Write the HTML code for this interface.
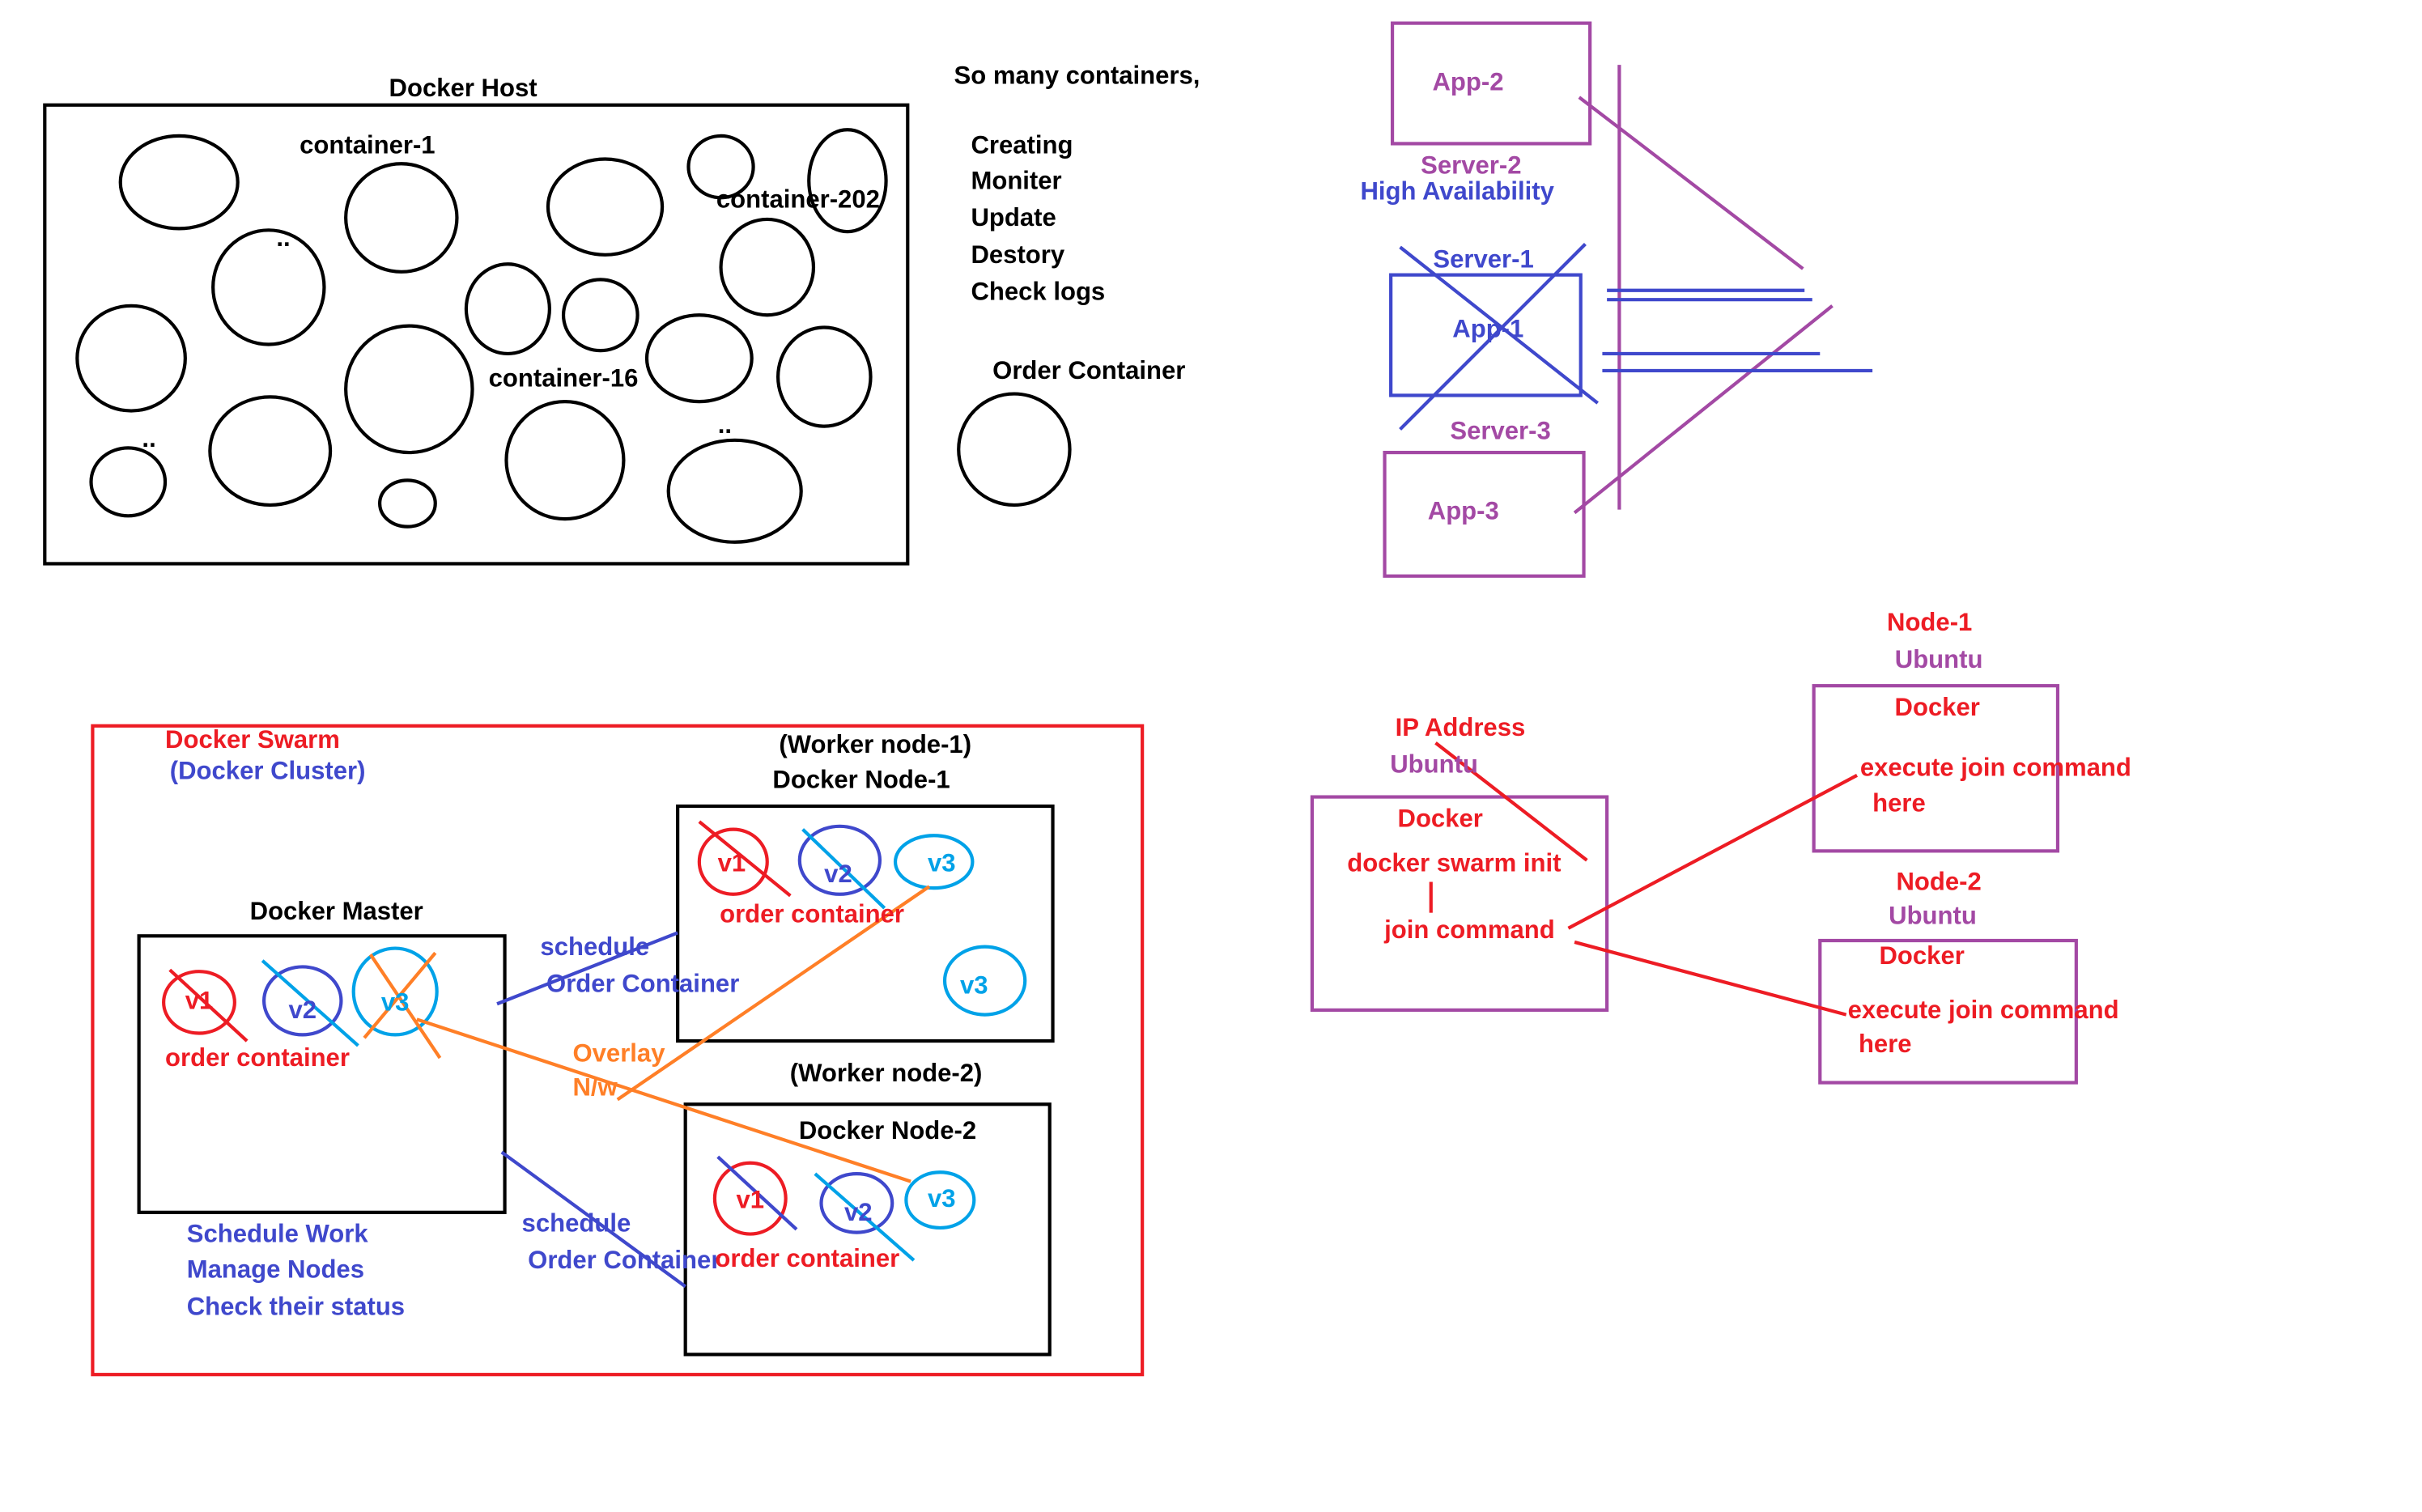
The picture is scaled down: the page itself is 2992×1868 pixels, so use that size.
<!DOCTYPE html>
<html><head><meta charset="utf-8"><style>
html,body{margin:0;padding:0;background:#fff;width:2992px;height:1868px;overflow:hidden}
svg{display:block}
text{font-family:"Liberation Sans",sans-serif;font-weight:bold;font-size:16.3px;dominant-baseline:middle}
</style></head><body>
<svg width="2992" height="1868" viewBox="0 0 1569 979" preserveAspectRatio="none" xmlns="http://www.w3.org/2000/svg">
<g fill="none" stroke-width="2.2">
<g stroke="#000">
<rect x="29" y="68" width="559" height="297"/>
<ellipse cx="116" cy="118" rx="38" ry="30"/><ellipse cx="260" cy="141" rx="36" ry="35"/>
<ellipse cx="174" cy="186" rx="36" ry="37"/><ellipse cx="85" cy="232" rx="35" ry="34"/>
<ellipse cx="83" cy="312" rx="24" ry="22"/><ellipse cx="175" cy="292" rx="39" ry="35"/>
<ellipse cx="265" cy="252" rx="41" ry="41"/><ellipse cx="264" cy="326" rx="18" ry="15"/>
<ellipse cx="329" cy="200" rx="27" ry="29"/><ellipse cx="389" cy="204" rx="24" ry="23"/>
<ellipse cx="392" cy="134" rx="37" ry="31"/><ellipse cx="467" cy="108" rx="21" ry="20"/>
<ellipse cx="549" cy="117" rx="25" ry="33"/><ellipse cx="497" cy="173" rx="30" ry="31"/>
<ellipse cx="453" cy="232" rx="34" ry="28"/><ellipse cx="534" cy="244" rx="30" ry="32"/>
<ellipse cx="366" cy="298" rx="38" ry="38"/><ellipse cx="476" cy="318" rx="43" ry="33"/>
<circle cx="657" cy="291" r="36"/>
</g>
<g stroke="#a349a4">
<rect x="902" y="15" width="128" height="78"/>
<rect x="897" y="293" width="129" height="80"/>
<line x1="1049" y1="42" x2="1049" y2="330"/>
<line x1="1023" y1="63" x2="1168" y2="174"/>
<line x1="1020" y1="332" x2="1187" y2="198"/>
</g>
<g stroke="#3f48cc">
<rect x="901" y="178" width="123" height="78"/>
<line x1="907" y1="160" x2="1035" y2="261"/><line x1="1027" y1="158" x2="907" y2="278"/>
<line x1="1041" y1="188" x2="1169" y2="188"/><line x1="1041" y1="194" x2="1174" y2="194"/>
<line x1="1038" y1="229" x2="1179" y2="229"/><line x1="1038" y1="240" x2="1213" y2="240"/>
</g>
<rect x="60" y="470" width="680" height="420" stroke="#ed1c24"/>
<g stroke="#000">
<rect x="90" y="606" width="237" height="179"/>
<rect x="439" y="522" width="243" height="152"/>
<rect x="444" y="715" width="236" height="162"/>
</g>
<g stroke="#ed1c24">
<ellipse cx="129" cy="649" rx="23" ry="20"/><line x1="110" y1="628" x2="160" y2="674"/>
<ellipse cx="475" cy="558" rx="22" ry="21"/><line x1="453" y1="532" x2="512" y2="580"/>
<ellipse cx="486" cy="776" rx="23" ry="23"/>
</g>
<g stroke="#3f48cc">
<ellipse cx="196" cy="648" rx="25" ry="22"/>
<ellipse cx="544" cy="557" rx="26" ry="22"/>
<ellipse cx="555" cy="779" rx="23" ry="19"/>
<line x1="465" y1="749" x2="516" y2="796"/>
<line x1="322" y1="650" x2="439" y2="604"/><line x1="325" y1="746" x2="444" y2="833"/>
</g>
<g stroke="#00a2e8">
<line x1="170" y1="622" x2="232" y2="677"/>
<line x1="520" y1="537" x2="573" y2="588"/>
<line x1="528" y1="760" x2="592" y2="816"/>
<ellipse cx="256" cy="642" rx="27" ry="28"/>
<ellipse cx="605" cy="558" rx="25" ry="17"/>
<ellipse cx="638" cy="635" rx="26" ry="22"/>
<ellipse cx="609" cy="777" rx="22" ry="18"/>
</g>
<g stroke="#ff7f27">
<line x1="240" y1="618" x2="285" y2="685"/><line x1="282" y1="617" x2="236" y2="672"/>
<line x1="602" y1="574" x2="400" y2="712"/><line x1="270" y1="660" x2="590" y2="765"/>
</g>
<g stroke="#a349a4">
<rect x="850" y="516" width="191" height="138"/>
<rect x="1175" y="444" width="158" height="107"/>
<rect x="1179" y="609" width="166" height="92"/>
</g>
<g stroke="#ed1c24">
<line x1="930" y1="481" x2="1028" y2="557"/>
<line x1="927" y1="571" x2="927" y2="591"/>
<line x1="1016" y1="601" x2="1203" y2="502"/>
<line x1="1020" y1="610" x2="1196" y2="657"/>
</g>
</g>
<g fill="#000">
<text x="300" y="58" text-anchor="middle">Docker Host</text>
<text x="238" y="95" text-anchor="middle">container-1</text>
<text x="517" y="130" text-anchor="middle">container-202</text>
<text x="365" y="246" text-anchor="middle">container-16</text>
<text x="179" y="155">..</text><text x="92" y="285">..</text><text x="465" y="276">..</text>
<text x="618" y="50">So many containers,</text>
<text x="629" y="95">Creating</text><text x="629" y="118">Moniter</text><text x="629" y="142">Update</text>
<text x="629" y="166">Destory</text><text x="629" y="190">Check logs</text>
<text x="643" y="241">Order Container</text>
<text x="218" y="591" text-anchor="middle">Docker Master</text>
<text x="567" y="483" text-anchor="middle">(Worker node-1)</text>
<text x="558" y="506" text-anchor="middle">Docker Node-1</text>
<text x="574" y="696" text-anchor="middle">(Worker node-2)</text>
<text x="575" y="733" text-anchor="middle">Docker Node-2</text>
</g>
<g fill="#a349a4">
<text x="951" y="54" text-anchor="middle">App-2</text>
<text x="953" y="108" text-anchor="middle">Server-2</text>
<text x="972" y="280" text-anchor="middle">Server-3</text>
<text x="948" y="332" text-anchor="middle">App-3</text>
<text x="929" y="496" text-anchor="middle">Ubuntu</text>
<text x="1256" y="428" text-anchor="middle">Ubuntu</text>
<text x="1252" y="594" text-anchor="middle">Ubuntu</text>
</g>
<g fill="#3f48cc">
<text x="944" y="125" text-anchor="middle">High Availability</text>
<text x="961" y="169" text-anchor="middle">Server-1</text>
<text x="964" y="214" text-anchor="middle">App-1</text>
<text x="110" y="500">(Docker Cluster)</text>
<text x="196" y="655" text-anchor="middle">v2</text>
<text x="543" y="567" text-anchor="middle">v2</text>
<text x="556" y="786" text-anchor="middle">v2</text>
<text x="121" y="800">Schedule Work</text><text x="121" y="823">Manage Nodes</text><text x="121" y="847">Check their status</text>
<text x="350" y="614">schedule</text><text x="354" y="638">Order Container</text>
<text x="338" y="793">schedule</text><text x="342" y="817">Order Container</text>
</g>
<g fill="#ed1c24">
<text x="107" y="480">Docker Swarm</text>
<text x="129" y="649" text-anchor="middle">v1</text>
<text x="474" y="560" text-anchor="middle">v1</text>
<text x="486" y="778" text-anchor="middle">v1</text>
<text x="107" y="686">order container</text>
<text x="526" y="593" text-anchor="middle">order container</text>
<text x="523" y="816" text-anchor="middle">order container</text>
<text x="946" y="472" text-anchor="middle">IP Address</text>
<text x="933" y="531" text-anchor="middle">Docker</text>
<text x="942" y="560" text-anchor="middle">docker swarm init</text>
<text x="952" y="603" text-anchor="middle">join command</text>
<text x="1250" y="404" text-anchor="middle">Node-1</text>
<text x="1255" y="459" text-anchor="middle">Docker</text>
<text x="1205" y="498">execute join command</text>
<text x="1213" y="521">here</text>
<text x="1256" y="572" text-anchor="middle">Node-2</text>
<text x="1245" y="620" text-anchor="middle">Docker</text>
<text x="1197" y="655">execute join command</text>
<text x="1204" y="677">here</text>
</g>
<g fill="#00a2e8">
<text x="256" y="650" text-anchor="middle">v3</text>
<text x="610" y="560" text-anchor="middle">v3</text>
<text x="631" y="639" text-anchor="middle">v3</text>
<text x="610" y="777" text-anchor="middle">v3</text>
</g>
<g fill="#ff7f27">
<text x="371" y="683">Overlay</text>
<text x="371" y="705">N/w</text>
</g>
</svg>
</body></html>
